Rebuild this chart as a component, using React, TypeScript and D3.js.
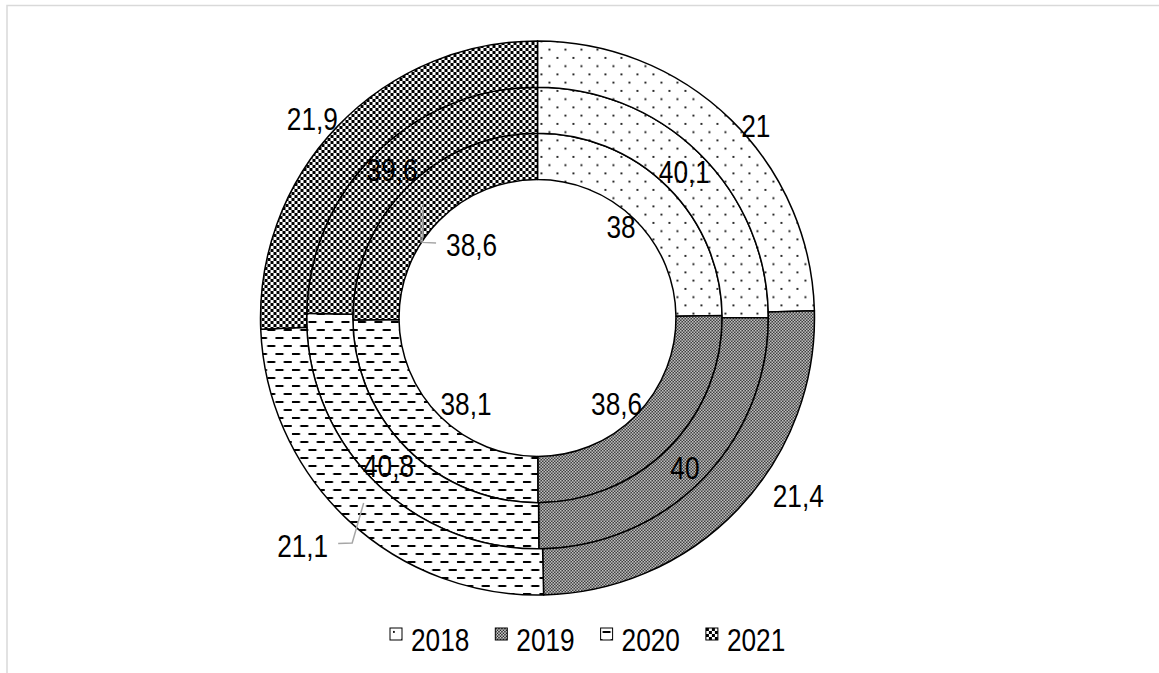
import { useEffect, useRef } from "react";

import * as d3 from "d3";

// series: one ring per series, inner -> outer
const years = ["2018", "2019", "2020", "2021"];
const innerRing = [38, 38.6, 38.1, 38.6];
const middleRing = [40.1, 40, 40.8, 39.6];
const outerRing = [21, 21.4, 21.1, 21.9];

const rings = [innerRing, middleRing, outerRing];

// labels were dragged around by hand in the original, so nudge them from the centroid
const labelShift = [
  [[-30, 23], [-36, -28], [42, -30], [49, 40]],
  [[0, 0], [0, 3], [-1, 2], [0, 0]],
  [[41, -11], [77, 2], [-61, 42], [-42, -24]],
];
// [ring, slice] of labels that got a leader line
const leaders = [
  [0, 3],
  [2, 2],
];

const App = () => {
  const ref = useRef<SVGSVGElement>(null);

  useEffect(() => {
    draw();
  }, []);

  const draw = () => {
    const width = 1159;
    const height = 673;
    const cx = 537.5;
    const cy = 318;
    const outerR = 277;
    const holeR = outerR * 0.5;
    const ringW = (outerR - holeR) / rings.length;
    const fontSize = 32;
    const narrow = 0.82; // no Arial Narrow here, squeeze Liberation Sans instead
    const font = "'Liberation Sans', Arial, sans-serif";

    const svg = d3.select(ref.current).attr("width", width).attr("height", height);
    svg.selectAll("*").remove();

    // fill patterns (Excel pattern fills)
    const defs = svg.append("defs");
    const p0 = defs
      .append("pattern")
      .attr("id", "p2018")
      .attr("patternUnits", "userSpaceOnUse")
      .attr("width", 16)
      .attr("height", 16.5);
    p0.append("rect").attr("width", 16).attr("height", 16.5).attr("fill", "#fff");
    p0.append("rect").attr("x", 3).attr("y", 3).attr("width", 1.8).attr("height", 1.8).attr("fill", "#000");
    p0.append("rect").attr("x", 11).attr("y", 11.25).attr("width", 1.8).attr("height", 1.8).attr("fill", "#000");

    const p1 = defs
      .append("pattern")
      .attr("id", "p2019")
      .attr("patternUnits", "userSpaceOnUse")
      .attr("width", 3)
      .attr("height", 3);
    p1.append("rect").attr("width", 3).attr("height", 3).attr("fill", "#fff");
    p1.append("rect").attr("width", 1.5).attr("height", 1.5).attr("fill", "#000");
    p1.append("rect").attr("x", 1.5).attr("y", 1.5).attr("width", 1.5).attr("height", 1.5).attr("fill", "#000");

    const p2 = defs
      .append("pattern")
      .attr("id", "p2020")
      .attr("patternUnits", "userSpaceOnUse")
      .attr("width", 16.5)
      .attr("height", 16);
    p2.append("rect").attr("width", 16.5).attr("height", 16).attr("fill", "#fff");
    p2.append("rect").attr("x", 2).attr("y", 3).attr("width", 8).attr("height", 2).attr("fill", "#000");
    p2.append("rect").attr("x", 10.25).attr("y", 11).attr("width", 8).attr("height", 2).attr("fill", "#000");
    p2.append("rect").attr("x", -6.25).attr("y", 11).attr("width", 8).attr("height", 2).attr("fill", "#000");

    const p3 = defs
      .append("pattern")
      .attr("id", "p2021")
      .attr("patternUnits", "userSpaceOnUse")
      .attr("width", 6)
      .attr("height", 6);
    p3.append("rect").attr("width", 6).attr("height", 6).attr("fill", "#fff");
    p3.append("rect").attr("width", 3).attr("height", 3).attr("fill", "#000");
    p3.append("rect").attr("x", 3).attr("y", 3).attr("width", 3).attr("height", 3).attr("fill", "#000");

    const fills = ["url(#p2018)", "url(#p2019)", "url(#p2020)", "url(#p2021)"];

    // chart area
    svg.append("rect").attr("width", width).attr("height", height).attr("fill", "#fff");
    svg
      .append("rect")
      .attr("x", 7)
      .attr("y", 5.5)
      .attr("width", 1170)
      .attr("height", 700)
      .attr("fill", "none")
      .attr("stroke", "#d9d9d9")
      .attr("stroke-width", 1.5);

    const pie = d3
      .pie<number>()
      .sort(null)
      .value((d) => d);

    const g = svg.append("g").attr("transform", `translate(${cx},${cy})`);

    rings.forEach((values, i) => {
      const arc = d3
        .arc<d3.PieArcDatum<number>>()
        .innerRadius(holeR + i * ringW)
        .outerRadius(holeR + (i + 1) * ringW);

      g.append("g")
        .selectAll("path")
        .data(pie(values))
        .join("path")
        .attr("d", arc)
        .attr("fill", (d, j) => fills[j])
        .attr("stroke", "#000")
        .attr("stroke-width", 1.5)
        .attr("stroke-linejoin", "round");
    });

    // data labels
    const labelG = g.append("g");
    rings.forEach((values, i) => {
      const arc = d3
        .arc<d3.PieArcDatum<number>>()
        .innerRadius(holeR + i * ringW)
        .outerRadius(holeR + (i + 1) * ringW);

      pie(values).forEach((d, j) => {
        const [px, py] = arc.centroid(d);
        const lx = px + labelShift[i][j][0];
        const ly = py + labelShift[i][j][1];

        const txt = labelG
          .append("text")
          .attr("transform", `translate(${lx},${ly + fontSize * 0.36}) scale(${narrow},1)`)
          .attr("text-anchor", "middle")
          .attr("font-family", font)
          .attr("font-size", fontSize)
          .attr("fill", "#000")
          .text(String(d.data).replace(".", ","));

        if (leaders.some(([a, b]) => a === i && b === j)) {
          const halfW = ((txt.node() as SVGTextElement).getComputedTextLength() * narrow) / 2;
          const side = lx > px ? 1 : -1;
          const edge = lx - side * halfW;
          g.insert("path", () => labelG.node())
            .attr(
              "d",
              d3.line()([
                [px, py],
                [edge - side * 24, ly - 2],
                [edge - side * 10, ly - 1.5],
              ])
            )
            .attr("fill", "none")
            .attr("stroke", "#a6a6a6")
            .attr("stroke-width", 1.5);
        }
      });
    });

    // legend
    const legend = svg.append("g");
    const item = legend
      .selectAll("g")
      .data(years)
      .join("g")
      .attr("transform", (d, i) => `translate(${390 + i * 105.3},628)`);
    item
      .append("rect")
      .attr("width", 12)
      .attr("height", 12)
      .attr("fill", (d, i) => fills[i])
      .attr("stroke", "#000")
      .attr("stroke-width", 1);
    item
      .append("text")
      .attr("transform", `translate(21,23) scale(${narrow},1)`)
      .attr("font-family", font)
      .attr("font-size", fontSize)
      .attr("fill", "#000")
      .text((d) => d);
  };

  return (
    <div style={{ position: "absolute", left: 0, top: 0 }}>
      <svg ref={ref} style={{ display: "block" }}></svg>
    </div>
  );
};

export default App;
